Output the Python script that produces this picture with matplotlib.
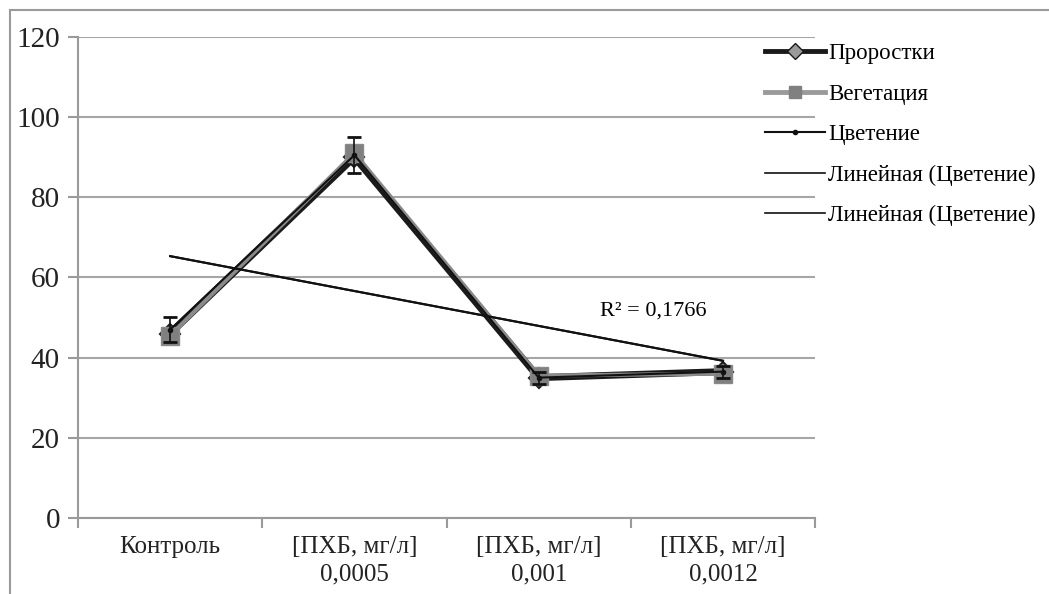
import numpy as np
import matplotlib
matplotlib.use('Agg')
import matplotlib.pyplot as plt
from matplotlib.patches import Rectangle
from matplotlib.lines import Line2D

plt.rcParams['font.family'] = ['Liberation Serif', 'DejaVu Serif']

# data
categories = ['Контроль', '[ПХБ, мг/л]\n0,0005', '[ПХБ, мг/л]\n0,001', '[ПХБ, мг/л]\n0,0012']
sprouts = [46, 90, 35, 36.5]       # Проростки
vegetation = [45.5, 91, 35.5, 36]  # Вегетация
flowering = [47, 90.5, 35, 36.5]   # Цветение
flowering_err = [3, 4.5, 1.5, 1.5]
r2_label = 'R² = 0,1766'

fig = plt.figure(figsize=(10.49, 5.94), dpi=100)
ax = fig.add_axes([0.0744, 0.128, 0.7026, 0.81])

# outer chart frame (runs off the right/bottom edge)
fig.patches.append(Rectangle((10 / 1049, -0.1), 1.2, 1.1 - 10 / 594,
                             transform=fig.transFigure, fill=False,
                             edgecolor='#9a9a9a', lw=1.5, zorder=0))

x = np.arange(len(categories))

ax.plot(x, sprouts, color='#1a1a1a', lw=5, marker='D', ms=10,
        mfc='#8c8c8c', mec='#1a1a1a', mew=1.5, zorder=3)
ax.plot(x, vegetation, color='#8a8a8a', lw=3, marker='s', ms=13,
        mfc='#808080', mec='#8a8a8a', zorder=4)
ax.errorbar(x, flowering, yerr=flowering_err, color='#111111', lw=1.5,
            marker='o', ms=3, capsize=5, capthick=2, elinewidth=1.2, zorder=5)

# linear trendline(s) of the flowering series
k, b = np.polyfit(x, flowering, 1)
trend = k * x + b
ax.plot(x, trend, color='#111111', lw=1.5, zorder=6)
ax.plot(x, trend, color='#111111', lw=1.5, zorder=6)
ax.text(2.62, 51.5, r2_label, fontsize=16, ha='center', va='center')

ax.set_ylim(0, 120)
ax.set_yticks(np.arange(0, 121, 20))
ax.set_xlim(-0.5, len(categories) - 0.5)
ax.set_xticks(x)
ax.set_xticklabels(categories, fontsize=18, color='#222222', linespacing=1.3)
ax.tick_params(axis='x', length=0, pad=13)
ax.set_xticks(np.arange(-0.5, len(categories)), minor=True)
ax.tick_params(axis='x', which='minor', length=7, color='#9a9a9a', width=1.5)
ax.tick_params(axis='y', labelsize=21, length=7, color='#9a9a9a', width=1.5,
               pad=6, labelcolor='#222222')

ax.grid(axis='y', color='#a6a6a6', lw=1.5)
ax.set_axisbelow(True)
for s in ['top', 'right']:
    ax.spines[s].set_visible(False)
for s in ['left', 'bottom']:
    ax.spines[s].set_color('#9a9a9a')
    ax.spines[s].set_linewidth(1.5)

handles = [
    Line2D([], [], color='#1a1a1a', lw=3.5, marker='D', ms=8, mfc='#9a9a9a', mec='#1a1a1a'),
    Line2D([], [], color='#9a9a9a', lw=3.5, marker='s', ms=9, mfc='#808080', mec='#808080'),
    Line2D([], [], color='#111111', lw=1.5, marker='o', ms=3),
    Line2D([], [], color='#111111', lw=1.2),
    Line2D([], [], color='#111111', lw=1.2),
]
labels = ['Проростки', 'Вегетация', 'Цветение',
          'Линейная (Цветение)', 'Линейная (Цветение)']
fig.legend(handles, labels, loc='upper left', bbox_to_anchor=(765 / 1049, 1 - 43 / 594),
           frameon=False, fontsize=16.5, handlelength=2.6, labelspacing=0.85,
           handletextpad=0.15, borderaxespad=0, borderpad=0)

fig.savefig('out.png', dpi=100)
